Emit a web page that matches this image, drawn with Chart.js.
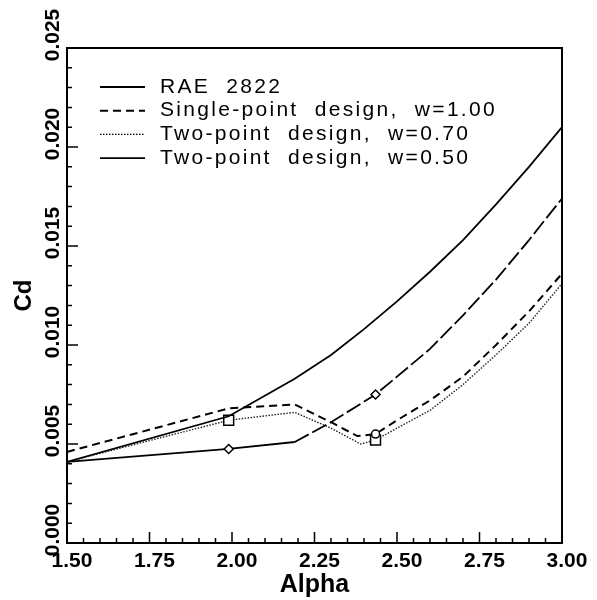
<!DOCTYPE html>
<html>
<head>
<meta charset="utf-8">
<script src="https://cdn.jsdelivr.net/npm/chart.js@4.4.1/dist/chart.umd.min.js"></script>
<style>
  html, body { margin: 0; padding: 0; background: #fff; }
  canvas { display: block; }
</style>
</head>
<body>
<canvas id="chart" width="597" height="600"></canvas>
<script>
// Axis setup
const alphaMin = 1.5, alphaMax = 3.0, alphaStep = 0.25, alphaMinor = 0.05;
const cdMin = 0.0, cdMax = 0.025, cdStep = 0.005, cdMinor = 0.001;

// Series labels (legend)
const seriesLabels = [
    'RAE  2822',
    'Single-point  design,  w=1.00',
    'Two-point  design,  w=0.70',
    'Two-point  design,  w=0.50'
];

// RAE 2822
const alphaRae = [1.5, 1.99, 2.19, 2.3, 2.4, 2.5, 2.6, 2.7, 2.8, 2.9, 3.0];
const cdRae    = [0.0041, 0.0064, 0.0083, 0.0095, 0.0108, 0.0122, 0.0137, 0.0153, 0.0171, 0.0190, 0.0210];

// Single-point design, w=1.00
const alphaSingle = [1.5, 1.99, 2.19, 2.3, 2.38, 2.435, 2.5, 2.6, 2.7, 2.8, 2.9, 3.0];
const cdSingle    = [0.0046, 0.0068, 0.0070, 0.0061, 0.0054, 0.0055, 0.0062, 0.0072, 0.0084, 0.0100, 0.0117, 0.0136];
const marksSingle = [2.435];

// Two-point design, w=0.70
const alphaW70 = [1.5, 1.99, 2.19, 2.3, 2.39, 2.435, 2.5, 2.6, 2.7, 2.8, 2.9, 3.0];
const cdW70    = [0.0041, 0.0062, 0.0066, 0.0058, 0.0050, 0.0052, 0.0058, 0.0067, 0.0080, 0.0095, 0.0111, 0.0131];
const marksW70 = [1.99, 2.435];

// Two-point design, w=0.50
const alphaW50 = [1.5, 1.99, 2.19, 2.3, 2.435, 2.5, 2.6, 2.7, 2.8, 2.9, 3.0];
const cdW50    = [0.0041, 0.00475, 0.0051, 0.0061, 0.0075, 0.0084, 0.0098, 0.0115, 0.0133, 0.0153, 0.0174];
const marksW50 = [1.99, 2.435];

const toPoints = (xs, ys) => xs.map((x, i) => ({ x: x, y: ys[i] }));
const radii = (xs, marks, r) => xs.map(x => marks.includes(x) ? r : 0);

const FONT = '"Liberation Sans", Arial, Helvetica, sans-serif';

// Frame and inward ticks (major + minor) drawn on the scales
const frameTicks = {
    id: 'frameTicks',
    afterDatasetsDraw(chart) {
        const { ctx, chartArea: a, scales: { x, y } } = chart;
        ctx.save();
        ctx.strokeStyle = '#000';
        ctx.lineWidth = 1.5;
        ctx.beginPath();
        const nx = Math.round((alphaMax - alphaMin) / alphaMinor);
        for (let i = 0; i <= nx; i++) {
            const px = x.getPixelForValue(alphaMin + i * alphaMinor);
            const len = i % 5 === 0 ? 11 : 5;
            ctx.moveTo(px, a.bottom);
            ctx.lineTo(px, a.bottom - len);
        }
        const ny = Math.round((cdMax - cdMin) / cdMinor);
        for (let i = 0; i <= ny; i++) {
            const py = y.getPixelForValue(cdMin + i * cdMinor);
            const len = i % 5 === 0 ? 11 : 5;
            ctx.moveTo(a.left, py);
            ctx.lineTo(a.left + len, py);
        }
        ctx.stroke();
        ctx.lineWidth = 2;
        ctx.strokeRect(a.left, a.top, a.right - a.left, a.bottom - a.top);
        ctx.restore();
    }
};

// Legend inside the plot, upper left
const insideLegend = {
    id: 'insideLegend',
    afterDraw(chart) {
        const { ctx, chartArea: a } = chart;
        ctx.save();
        ctx.font = '21px ' + FONT;
        ctx.letterSpacing = '2.3px';
        ctx.textBaseline = 'middle';
        ctx.fillStyle = '#000';
        ctx.strokeStyle = '#000';
        chart.data.datasets.forEach((ds, i) => {
            const yy = a.top + 39 + i * 23.7;
            ctx.beginPath();
            ctx.lineWidth = ds.borderWidth;
            ctx.setLineDash(ds.legendDash || ds.borderDash || []);
            ctx.moveTo(a.left + 33, yy);
            ctx.lineTo(a.left + 78, yy);
            ctx.stroke();
            ctx.setLineDash([]);
            ctx.fillText(ds.label, a.left + 93, yy);
        });
        ctx.restore();
    }
};

new Chart(document.getElementById('chart'), {
    type: 'line',
    data: {
        datasets: [
            {
                label: seriesLabels[0],
                data: toPoints(alphaRae, cdRae),
                borderColor: '#000',
                borderWidth: 1.8,
                pointRadius: 0,
                tension: 0
            },
            {
                label: seriesLabels[1],
                data: toPoints(alphaSingle, cdSingle),
                borderColor: '#000',
                borderWidth: 2,
                borderDash: [8, 5],
                pointRadius: radii(alphaSingle, marksSingle, 4),
                pointStyle: 'circle',
                pointBackgroundColor: '#fff',
                pointBorderColor: '#000',
                pointBorderWidth: 1.5,
                tension: 0
            },
            {
                label: seriesLabels[2],
                data: toPoints(alphaW70, cdW70),
                borderColor: '#222',
                borderWidth: 1.4,
                borderDash: [1.5, 1.5],
                pointRadius: radii(alphaW70, marksW70, 7),
                pointStyle: 'rect',
                pointBackgroundColor: '#fff',
                pointBorderColor: '#000',
                pointBorderWidth: 1.5,
                tension: 0
            },
            {
                label: seriesLabels[3],
                data: toPoints(alphaW50, cdW50),
                borderColor: '#000',
                borderWidth: 1.8,
                borderDash: [16, 4],
                legendDash: [],
                segment: {
                    borderDash: c => c.p0.parsed.x < 2.19 ? [] : [16, 4]
                },
                pointRadius: radii(alphaW50, marksW50, 4.5),
                pointStyle: 'rectRot',
                pointBackgroundColor: '#fff',
                pointBorderColor: '#000',
                pointBorderWidth: 1.5,
                tension: 0
            }
        ]
    },
    options: {
        responsive: false,
        animation: false,
        layout: { padding: { top: 48, right: 35, left: 0, bottom: 0 } },
        plugins: {
            legend: { display: false },
            tooltip: { enabled: false }
        },
        scales: {
            x: {
                type: 'linear',
                min: alphaMin,
                max: alphaMax,
                afterFit: s => { s.height = 57; },
                grid: { display: false, drawTicks: false },
                border: { display: false },
                ticks: {
                    stepSize: alphaStep,
                    autoSkip: false,
                    maxRotation: 0,
                    padding: 6,
                    labelOffset: 5,
                    color: '#000',
                    font: { family: FONT, size: 21, weight: 'bold' },
                    callback: v => v.toFixed(2)
                },
                title: {
                    display: true,
                    text: 'Alpha',
                    color: '#000',
                    padding: { top: 0, bottom: 0 },
                    font: { family: FONT, size: 25, weight: 'bold' }
                }
            },
            y: {
                type: 'linear',
                min: cdMin,
                max: cdMax,
                afterFit: s => { s.width = 67; },
                grid: { display: false, drawTicks: false },
                border: { display: false },
                ticks: {
                    stepSize: cdStep,
                    minRotation: 90,
                    maxRotation: 90,
                    crossAlign: 'center',
                    padding: -12,
                    labelOffset: -13,
                    color: '#000',
                    font: { family: FONT, size: 21, weight: 'bold' },
                    callback: v => v.toFixed(3)
                },
                title: {
                    display: true,
                    text: 'Cd',
                    color: '#000',
                    padding: { top: 10, bottom: 0 },
                    font: { family: FONT, size: 24, weight: 'bold' }
                }
            }
        }
    },
    plugins: [frameTicks, insideLegend]
});
</script>
</body>
</html>
